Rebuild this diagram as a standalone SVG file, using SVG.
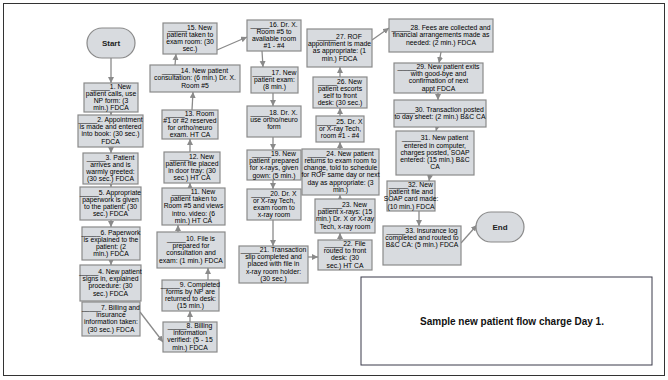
<svg xmlns="http://www.w3.org/2000/svg" width="668" height="380" viewBox="0 0 668 380">
<style>
.b{fill:#d8dbdf;stroke:#8a8a8a;stroke-width:1.2}
.t{font-family:"Liberation Sans",Arial,sans-serif;font-size:6.8px;fill:#000;text-anchor:middle}
.term{font-family:"Liberation Sans",Arial,sans-serif;font-size:8px;font-weight:bold;fill:#222;text-anchor:middle}
.c{stroke:#8a8a8a;stroke-width:1.3;fill:none;marker-end:url(#ah)}
</style>
<defs>
<marker id="ah" markerUnits="userSpaceOnUse" markerWidth="7" markerHeight="7" refX="6" refY="3" orient="auto">
<path d="M0,0 L6,3 L0,6 z" fill="#8a8a8a"/>
</marker>
</defs>
<rect x="3.5" y="3.5" width="661" height="372" fill="#fff" stroke="#333" stroke-width="1"/>

<g id="connectors">
<line class="c" x1="111" y1="58" x2="111" y2="83"/>
<line class="c" x1="111" y1="112" x2="111" y2="115"/>
<line class="c" x1="111" y1="147" x2="111" y2="153"/>
<line class="c" x1="111" y1="184" x2="111" y2="187"/>
<line class="c" x1="111" y1="220" x2="111" y2="227"/>
<line class="c" x1="111" y1="260" x2="111" y2="265"/>
<line class="c" x1="111" y1="301" x2="111" y2="302"/>
<line class="c" x1="140" y1="312" x2="163" y2="342"/>
<line class="c" x1="190" y1="322" x2="190" y2="311"/>
<line class="c" x1="208" y1="280" x2="208" y2="268"/>
<line class="c" x1="178" y1="232" x2="178" y2="225"/>
<line class="c" x1="190" y1="188" x2="190" y2="183"/>
<line class="c" x1="190" y1="152" x2="190" y2="139"/>
<line class="c" x1="192" y1="110" x2="193" y2="92"/>
<line class="c" x1="175" y1="65" x2="176" y2="54"/>
<line class="c" x1="217" y1="50" x2="247" y2="37"/>
<line class="c" x1="262" y1="51" x2="263" y2="67"/>
<line class="c" x1="273" y1="93" x2="273" y2="106"/>
<line class="c" x1="273" y1="137" x2="273" y2="150"/>
<line class="c" x1="273" y1="180" x2="273" y2="189"/>
<line class="c" x1="273" y1="220" x2="273" y2="246"/>
<line class="c" x1="308" y1="257" x2="318" y2="257"/>
<line class="c" x1="340" y1="240" x2="340" y2="233"/>
<line class="c" x1="340" y1="199" x2="340" y2="195"/>
<line class="c" x1="340" y1="149" x2="340" y2="142"/>
<line class="c" x1="340" y1="116" x2="340" y2="108"/>
<line class="c" x1="340" y1="77" x2="340" y2="67"/>
<line class="c" x1="372" y1="40" x2="389" y2="28"/>
<line class="c" x1="441" y1="52" x2="439" y2="63"/>
<line class="c" x1="438" y1="93" x2="438" y2="100"/>
<line class="c" x1="437" y1="127" x2="436" y2="131"/>
<line class="c" x1="430" y1="175" x2="429" y2="181"/>
<line class="c" x1="419" y1="211" x2="419" y2="226"/>
<line class="c" x1="461" y1="243" x2="477" y2="225"/>
</g>

<g id="start"><rect class="b" x="87" y="28" width="48" height="30" rx="15"/><text class="term" x="111" y="46">Start</text></g>
<g id="end"><rect class="b" x="476" y="212" width="48" height="30" rx="15"/><text class="term" x="500" y="230">End</text></g>

<g id="n1"><rect class="b" x="84" y="83" width="54" height="29"/><text class="t"><tspan x="111" y="88.5">_____1. New</tspan><tspan x="111" y="95.7">patient calls, use</tspan><tspan x="111" y="102.9">NP form: (3</tspan><tspan x="111" y="110.1">min.) FDCA</tspan></text></g>
<g id="n2"><rect class="b" x="78" y="115" width="65" height="32"/><text class="t"><tspan x="110.5" y="122">_____2. Appointment</tspan><tspan x="110.5" y="129.2">is made and entered</tspan><tspan x="110.5" y="136.4">into book: (30 sec.)</tspan><tspan x="110.5" y="143.6">FDCA</tspan></text></g>
<g id="n3"><rect class="b" x="83" y="153" width="55" height="31"/><text class="t"><tspan x="110.5" y="159.5">_____3. Patient</tspan><tspan x="110.5" y="166.7">arrives and is</tspan><tspan x="110.5" y="173.9">warmly greeted:</tspan><tspan x="110.5" y="181.1">(30 sec.) FDCA</tspan></text></g>
<g id="n5"><rect class="b" x="80" y="187" width="61" height="33"/><text class="t"><tspan x="110.5" y="194.5">_____5. Appropriate</tspan><tspan x="110.5" y="201.7">paperwork is given</tspan><tspan x="110.5" y="208.9">to the patient: (30</tspan><tspan x="110.5" y="216.1">sec.) FDCA</tspan></text></g>
<g id="n6"><rect class="b" x="82" y="227" width="58" height="33"/><text class="t"><tspan x="111" y="234.5">_____6. Paperwork</tspan><tspan x="111" y="241.7">is explained to the</tspan><tspan x="111" y="248.9">patient: (2</tspan><tspan x="111" y="256.1">min.) FDCA</tspan></text></g>
<g id="n4"><rect class="b" x="80" y="265" width="61" height="36"/><text class="t"><tspan x="110.5" y="274">_____4. New patient</tspan><tspan x="110.5" y="281.2">signs in, explained</tspan><tspan x="110.5" y="288.4">procedure: (30</tspan><tspan x="110.5" y="295.6">sec.) FDCA</tspan></text></g>
<g id="n7"><rect class="b" x="82" y="302" width="58" height="34"/><text class="t"><tspan x="111" y="310">_____7. Billing and</tspan><tspan x="111" y="317.2">insurance</tspan><tspan x="111" y="324.4">information taken:</tspan><tspan x="111" y="331.6">(30 sec.) FDCA</tspan></text></g>

<g id="n15"><rect class="b" x="163" y="23" width="54" height="31"/><text class="t"><tspan x="190" y="29.5">_____15. New</tspan><tspan x="190" y="36.7">patient taken to</tspan><tspan x="190" y="43.9">exam room: (30</tspan><tspan x="190" y="51.1">sec.)</tspan></text></g>
<g id="n14"><rect class="b" x="150" y="65" width="90" height="27"/><text class="t"><tspan x="195" y="73.1">_____14. New patient</tspan><tspan x="195" y="80.3">consultation: (6 min.) Dr. X.</tspan><tspan x="195" y="87.5">Room #5</tspan></text></g>
<g id="n13"><rect class="b" x="162" y="110" width="56" height="29"/><text class="t"><tspan x="190" y="115.5">_____13. Room</tspan><tspan x="190" y="122.7">#1 or #2 reserved</tspan><tspan x="190" y="129.9">for ortho/neuro</tspan><tspan x="190" y="137.1">exam. HT CA</tspan></text></g>
<g id="n12"><rect class="b" x="164" y="152" width="56" height="31"/><text class="t"><tspan x="192" y="158.5">_____12. New</tspan><tspan x="192" y="165.7">patient file placed</tspan><tspan x="192" y="172.9">in door tray: (30</tspan><tspan x="192" y="180.1">sec.) HT CA</tspan></text></g>
<g id="n11"><rect class="b" x="162" y="188" width="63" height="37"/><text class="t"><tspan x="193.5" y="193.9">_____11. New</tspan><tspan x="193.5" y="201.1">patient taken to</tspan><tspan x="193.5" y="208.3">Room #5 and views</tspan><tspan x="193.5" y="215.5">intro. video: (6</tspan><tspan x="193.5" y="222.7">min.) HT CA</tspan></text></g>
<g id="n10"><rect class="b" x="157" y="232" width="68" height="36"/><text class="t"><tspan x="191" y="241">_____10. File is</tspan><tspan x="191" y="248.2">prepared for</tspan><tspan x="191" y="255.4">consultation and</tspan><tspan x="191" y="262.6">exam: (1 min.) FDCA</tspan></text></g>
<g id="n9"><rect class="b" x="162" y="280" width="57" height="31"/><text class="t"><tspan x="190.5" y="286.5">_____9. Completed</tspan><tspan x="190.5" y="293.7">forms by NP are</tspan><tspan x="190.5" y="300.9">returned to desk:</tspan><tspan x="190.5" y="308.1">(15 min.)</tspan></text></g>
<g id="n8"><rect class="b" x="163" y="322" width="54" height="30"/><text class="t"><tspan x="190" y="328">_____8. Billing</tspan><tspan x="190" y="335.2">information</tspan><tspan x="190" y="342.4">verified: (5 - 15</tspan><tspan x="190" y="349.6">min.) FDCA</tspan></text></g>

<g id="n16"><rect class="b" x="247" y="20" width="54" height="31"/><text class="t"><tspan x="274" y="26.5">_____16. Dr. X.</tspan><tspan x="274" y="33.7">Room #5 to</tspan><tspan x="274" y="40.9">available room</tspan><tspan x="274" y="48.1">#1 - #4</tspan></text></g>
<g id="n17"><rect class="b" x="251" y="67" width="47" height="26"/><text class="t"><tspan x="274.5" y="74.6">_____17. New</tspan><tspan x="274.5" y="81.8">patient exam:</tspan><tspan x="274.5" y="89">(8 min.)</tspan></text></g>
<g id="n18"><rect class="b" x="247" y="106" width="54" height="31"/><text class="t"><tspan x="274" y="115">_____18. Dr. X.</tspan><tspan x="274" y="122.2">use ortho/neuro</tspan><tspan x="274" y="129.4">form</tspan></text></g>
<g id="n19"><rect class="b" x="247" y="150" width="54" height="30"/><text class="t"><tspan x="274" y="156">_____19. New</tspan><tspan x="274" y="163.2">patient prepared</tspan><tspan x="274" y="170.4">for x-rays, given</tspan><tspan x="274" y="177.6">gown: (5 min.)</tspan></text></g>
<g id="n20"><rect class="b" x="247" y="189" width="54" height="31"/><text class="t"><tspan x="274" y="195.5">_____20. Dr. X</tspan><tspan x="274" y="202.7">or X-ray Tech,</tspan><tspan x="274" y="209.9">exam room to</tspan><tspan x="274" y="217.1">x-ray room</tspan></text></g>
<g id="n21"><rect class="b" x="239" y="246" width="69" height="37"/><text class="t"><tspan x="273.5" y="251.9">_____21. Transaction</tspan><tspan x="273.5" y="259.1">slip completed and</tspan><tspan x="273.5" y="266.3">placed with file in</tspan><tspan x="273.5" y="273.5">x-ray room holder:</tspan><tspan x="273.5" y="280.7">(30 sec.)</tspan></text></g>

<g id="n27"><rect class="b" x="307" y="29" width="65" height="38"/><text class="t"><tspan x="339.5" y="39">_____27. ROF</tspan><tspan x="339.5" y="46.2">appointment is made</tspan><tspan x="339.5" y="53.4">as appropriate: (1</tspan><tspan x="339.5" y="60.6">min.) FDCA</tspan></text></g>
<g id="n26"><rect class="b" x="313" y="77" width="54" height="31"/><text class="t"><tspan x="340" y="83.5">_____26. New</tspan><tspan x="340" y="90.7">patient escorts</tspan><tspan x="340" y="97.9">self to front</tspan><tspan x="340" y="105.1">desk: (30 sec.)</tspan></text></g>
<g id="n25"><rect class="b" x="316" y="116" width="48" height="26"/><text class="t"><tspan x="340" y="123.6">_____25. Dr. X</tspan><tspan x="340" y="130.8">or X-ray Tech,</tspan><tspan x="340" y="138">room #1 - #4</tspan></text></g>
<g id="n24"><rect class="b" x="302" y="149" width="77" height="46"/><text class="t"><tspan x="340.5" y="155.8">_____24. New patient</tspan><tspan x="340.5" y="163">returns to exam room to</tspan><tspan x="340.5" y="170.2">change, told to schedule</tspan><tspan x="340.5" y="177.4">for ROF same day or next</tspan><tspan x="340.5" y="184.6">day as appropriate: (3</tspan><tspan x="340.5" y="191.8">min.)</tspan></text></g>
<g id="n23"><rect class="b" x="315" y="199" width="60" height="34"/><text class="t"><tspan x="345" y="207">_____23. New</tspan><tspan x="345" y="214.2">patient x-rays: (15</tspan><tspan x="345" y="221.4">min.) Dr. X or X-ray</tspan><tspan x="345" y="228.6">Tech, x-ray room</tspan></text></g>
<g id="n22"><rect class="b" x="318" y="240" width="54" height="30"/><text class="t"><tspan x="345" y="246">_____22. File</tspan><tspan x="345" y="253.2">routed to front</tspan><tspan x="345" y="260.4">desk: (30</tspan><tspan x="345" y="267.6">sec.) HT CA</tspan></text></g>

<g id="n28"><rect class="b" x="389" y="19" width="104" height="33"/><text class="t"><tspan x="441" y="30.1">_____28. Fees are collected and</tspan><tspan x="441" y="37.3">financial arrangements made as</tspan><tspan x="441" y="44.5">needed: (2 min.) FDCA</tspan></text></g>
<g id="n29"><rect class="b" x="394" y="63" width="89" height="30"/><text class="t"><tspan x="438.5" y="69">_____29. New patient exits</tspan><tspan x="438.5" y="76.2">with good-bye and</tspan><tspan x="438.5" y="83.4">confirmation of next</tspan><tspan x="438.5" y="90.6">appt FDCA</tspan></text></g>
<g id="n30"><rect class="b" x="394" y="100" width="92" height="27"/><text class="t"><tspan x="440" y="111.7">_____30. Transaction posted</tspan><tspan x="440" y="118.9">to day sheet: (2 min.) B&amp;C CA</tspan></text></g>
<g id="n31"><rect class="b" x="396" y="131" width="78" height="44"/><text class="t"><tspan x="435" y="140.4">_____31. New patient</tspan><tspan x="435" y="147.6">entered in computer,</tspan><tspan x="435" y="154.8">charges posted, SOAP</tspan><tspan x="435" y="162">entered: (15 min.) B&amp;C</tspan><tspan x="435" y="169.2">CA</tspan></text></g>
<g id="n32"><rect class="b" x="387" y="181" width="48" height="30"/><text class="t"><tspan x="411" y="187">_____32. New</tspan><tspan x="411" y="194.2">patient file and</tspan><tspan x="411" y="201.4">SOAP card made:</tspan><tspan x="411" y="208.6">(10 min.) FDCA</tspan></text></g>
<g id="n33"><rect class="b" x="383" y="226" width="78" height="39"/><text class="t"><tspan x="422" y="233">_____33. Insurance log</tspan><tspan x="422" y="240.2">completed and routed to</tspan><tspan x="422" y="247.4">B&amp;C CA: (5 min.) FDCA</tspan></text></g>

<g id="caption"><rect x="361" y="277" width="291" height="88" fill="#fff" stroke="#3a3a4a" stroke-width="1"/><text x="512" y="325" style="font-family:'Liberation Sans',Arial,sans-serif;font-size:10px;font-weight:bold;fill:#111;text-anchor:middle">Sample new patient flow charge Day 1.</text></g>
</svg>
